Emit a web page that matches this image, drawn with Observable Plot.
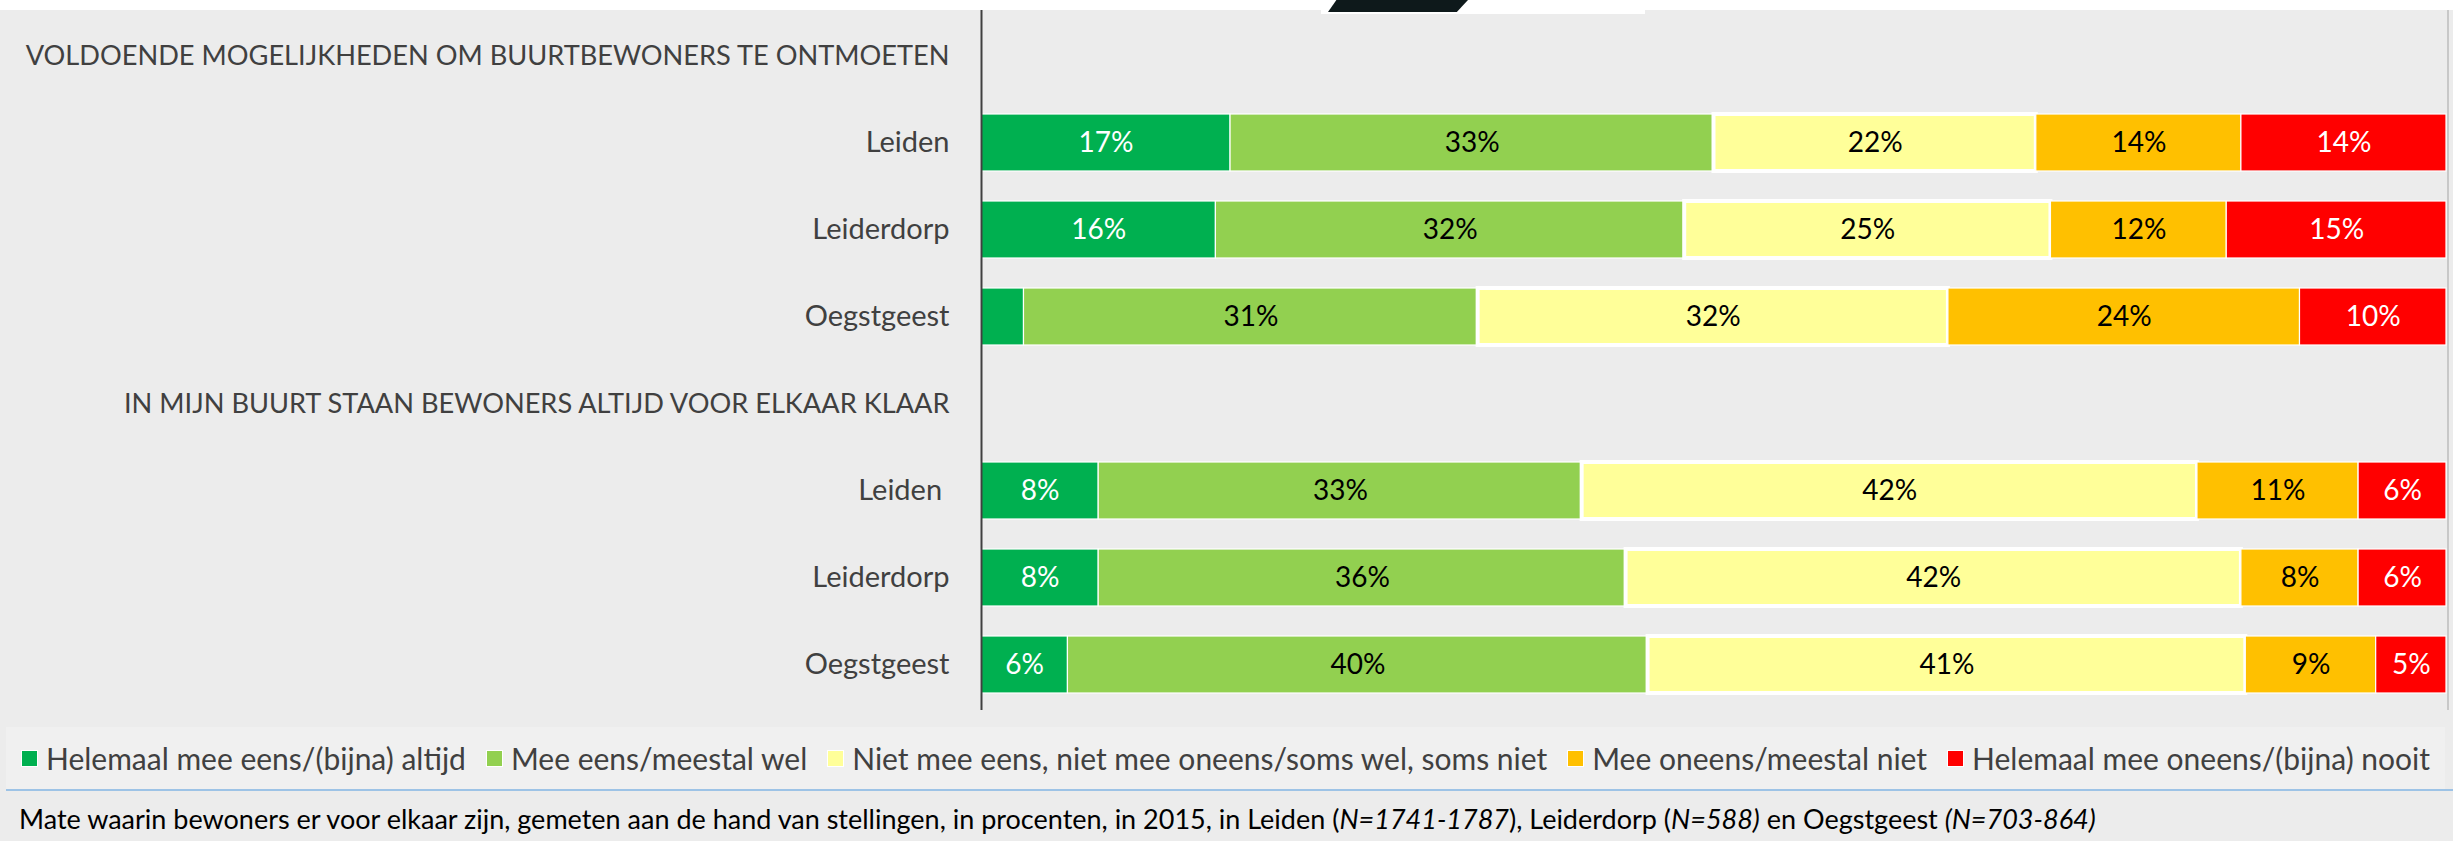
<!DOCTYPE html>
<html>
<head>
<meta charset="utf-8">
<script src="https://cdn.jsdelivr.net/npm/d3@7"></script>
<script src="https://cdn.jsdelivr.net/npm/@observablehq/plot@0.6"></script>
<style>
  html, body { margin: 0; padding: 0; }
  body { width: 2453px; height: 841px; background: #ececec; position: relative; overflow: hidden; font-family: Lato, "Open Sans", sans-serif; }
  #topstrip { position: absolute; left: 0; top: 0; width: 2453px; height: 10px; background: #ffffff; }
  #notch { position: absolute; left: 1321px; top: 10px; width: 324px; height: 4px; background: #ffffff; }
  #shape { position: absolute; left: 1328px; top: 0; width: 140px; height: 12px; background: #0e191b; clip-path: polygon(6% 0, 100% 0, 92% 100%, 0 100%); }
  #chart { position: absolute; left: 0; top: 10px; }
  #legend { position: absolute; left: 6px; top: 727px; width: 2439px; height: 62px; background: #f0f0f0; display: flex; align-items: center; justify-content: center; color: #404040; font-size: 30px; }
  .item { display: inline-flex; align-items: center; margin-right: 20px; white-space: nowrap; }
  .item:last-child { margin-right: 0; }
  .sw { width: 17px; height: 17px; margin-right: 8px; box-sizing: border-box; border: 1px solid #ffffff; }
  #rule { position: absolute; left: 6px; top: 789px; width: 2447px; height: 2px; background: #9dc3e6; }
  #caption { position: absolute; left: 19px; top: 802px; font-size: 27px; color: #000; white-space: nowrap; line-height: 34px; }
</style>
</head>
<body>
<div id="topstrip"></div>
<div id="notch"></div>
<div id="shape"></div>
<div id="chart"></div>
<div id="legend"></div>
<div id="rule"></div>
<div id="caption">Mate waarin bewoners er voor elkaar zijn, gemeten aan de hand van stellingen, in procenten, in 2015, in Leiden (<i>N=1741-1787</i>), Leiderdorp (<i>N=588)</i> en Oegstgeest <i>(N=703-864)</i></div>
<script>
// ---- data ----
const statements = [
  "VOLDOENDE MOGELIJKHEDEN OM BUURTBEWONERS TE ONTMOETEN",
  "IN MIJN BUURT STAAN BEWONERS ALTIJD VOOR ELKAAR KLAAR"
];
const places = ["Leiden", "Leiderdorp", "Oegstgeest"];
const placeLabels2 = ["Leiden ", "Leiderdorp", "Oegstgeest"];
const categories = [
  "Helemaal mee eens/(bijna) altijd",
  "Mee eens/meestal wel",
  "Niet mee eens, niet mee oneens/soms wel, soms niet",
  "Mee oneens/meestal niet",
  "Helemaal mee oneens/(bijna) nooit"
];
const colors = ["#00b050", "#92d050", "#ffff99", "#ffc000", "#ff0000"];
const labelColors = ["#ffffff", "#000000", "#000000", "#000000", "#ffffff"];

// values per place, in category order (percent)
const ontmoetenLeiden     = [17, 33, 22, 14, 14];
const ontmoetenLeiderdorp = [16, 32, 25, 12, 15];
const ontmoetenOegstgeest = [2.9, 31, 32.1, 24, 10];
const klaarLeiden         = [8, 33, 42, 11, 6];
const klaarLeiderdorp     = [8, 36, 42, 8, 6];
const klaarOegstgeest     = [5.9, 39.6, 40.8, 8.9, 4.8];

// ---- build table ----
const groups = [
  {statement: statements[0], labels: places, series: [ontmoetenLeiden, ontmoetenLeiderdorp, ontmoetenOegstgeest]},
  {statement: statements[1], labels: placeLabels2, series: [klaarLeiden, klaarLeiderdorp, klaarOegstgeest]}
];
const keys = [];
const headerKeys = [];
const placeKeys = [];
const tickLabel = new Map();
const rows = [];
groups.forEach((g, gi) => {
  const hk = `h${gi}`;
  keys.push(hk);
  headerKeys.push(hk);
  tickLabel.set(hk, g.statement);
  g.series.forEach((vals, pi) => {
    const k = `${gi}|${pi}`;
    keys.push(k);
    placeKeys.push(k);
    tickLabel.set(k, g.labels[pi]);
    let acc = 0;
    vals.forEach((v, ci) => {
      rows.push({key: k, cat: categories[ci], ci, value: v, x1: acc, x2: acc + v, mid: acc + v / 2});
      acc += v;
    });
  });
});
const fmt = d => d.value >= 4 ? Math.round(d.value) + "%" : "";

const chart = Plot.plot({
  width: 2453,
  height: 700,
  marginTop: 0,
  marginBottom: 0,
  marginLeft: 981,
  marginRight: 7,
  style: {background: "transparent", fontFamily: "Lato, 'Open Sans', sans-serif", color: "#404040", overflow: "visible"},
  x: {domain: [0, 100], axis: null},
  y: {domain: keys, paddingInner: 0.35, paddingOuter: 0.175, axis: null},
  color: {domain: categories, range: colors},
  marks: [
    Plot.ruleX([100], {dx: 1.5, stroke: "#c8c8c8", strokeWidth: 2}),
    Plot.barX(rows, {x1: "x1", x2: "x2", y: "key", fill: "cat", stroke: "#ffffff",
      strokeWidth: d => d.ci === 2 ? 4 : 1.2}),
    Plot.text(rows, {x: "mid", y: "key", text: fmt, fill: d => labelColors[d.ci], fontSize: 28}),
    Plot.ruleX([0], {stroke: "#404040", strokeWidth: 2}),
    Plot.axisY(placeKeys, {tickSize: 0, tickPadding: 32, fontSize: 29, label: null, tickFormat: k => tickLabel.get(k)}),
    Plot.axisY(headerKeys, {tickSize: 0, tickPadding: 32, fontSize: 27.2, label: null, tickFormat: k => tickLabel.get(k)})
  ]
});
document.getElementById("chart").appendChild(chart);

// ---- legend ----
const legend = document.getElementById("legend");
categories.forEach((c, i) => {
  const item = document.createElement("span");
  item.className = "item";
  const sw = document.createElement("span");
  sw.className = "sw";
  sw.style.background = colors[i];
  const t = document.createElement("span");
  t.textContent = c;
  item.appendChild(sw);
  item.appendChild(t);
  legend.appendChild(item);
});
</script>
</body>
</html>
